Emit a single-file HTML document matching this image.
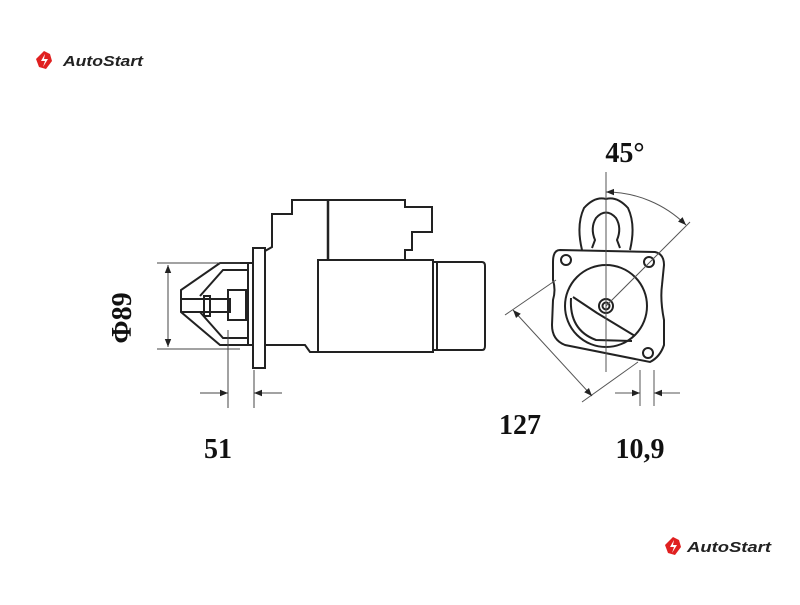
<!DOCTYPE html>
<html><head><style>
body{margin:0;background:#fff;width:800px;height:600px;overflow:hidden}
</style></head><body>
<svg width="800" height="600" viewBox="0 0 800 600" xmlns="http://www.w3.org/2000/svg">
<defs>
<marker id="a" viewBox="0 0 10 10" refX="10" refY="5" markerWidth="12" markerHeight="8" markerUnits="userSpaceOnUse" orient="auto-start-reverse"><path d="M0,1 L10,5 L0,9z" fill="#222"/></marker>
</defs>
<g transform="translate(36,51)">
<path d="M8,0 L14,3 L16,10 L10,18 L3,16 L0,8z" fill="#e02020"/><path d="M9,3 L5,10 L9,10 L7,16 L12,8 L8,8z" fill="#fff"/>
<text x="27" y="15" font-family="Liberation Sans,sans-serif" font-size="15" font-style="italic" font-weight="bold" fill="#222" textLength="80" lengthAdjust="spacingAndGlyphs">AutoStart</text></g>
<g transform="translate(665,537)">
<path d="M8,0 L14,3 L16,10 L10,18 L3,16 L0,8z" fill="#e02020"/><path d="M9,3 L5,10 L9,10 L7,16 L12,8 L8,8z" fill="#fff"/>
<text x="22" y="15" font-family="Liberation Sans,sans-serif" font-size="15" font-style="italic" font-weight="bold" fill="#222" textLength="84" lengthAdjust="spacingAndGlyphs">AutoStart</text></g>

<g fill="none" stroke="#222" stroke-width="2">
<rect x="253" y="248" width="12" height="120"/>
<path d="M265,251 L272,247 L272,214 L292,214 L292,200 L405,200 L405,207 L432,207 L432,232 L412,232 L412,250 L405,250 L405,260"/>
<path d="M328,200 L328,260" stroke-width="2.5"/>
<path d="M265,345 L305,345 L310,352 L318,352"/>
<rect x="318" y="260" width="115" height="92"/>
<path d="M433,262 L482,262 Q485,262 485,266 L485,346 Q485,350 482,350 L433,350"/>
<line x1="437" y1="262" x2="437" y2="350"/>
<path d="M253,263 L248,263 L220,263 L181,290 L181,312 L220,345 L248,345 L253,345"/>
<path d="M248,263 L248,345"/>
<path d="M248,270 L223,270 L200,296 M248,338 L223,338 L200,312"/>
<path d="M182,299 L230,299 L230,312 L182,312"/>
<rect x="204" y="296" width="6" height="20"/>
<rect x="228" y="290" width="18" height="30"/>
</g>
<g stroke="#444" stroke-width="1" fill="none">
<line x1="157" y1="263" x2="240" y2="263"/><line x1="157" y1="349" x2="240" y2="349"/>
<line x1="168" y1="265" x2="168" y2="347" marker-start="url(#a)" marker-end="url(#a)"/>
<line x1="228" y1="330" x2="228" y2="408"/><line x1="254" y1="370" x2="254" y2="408"/>
<line x1="200" y1="393" x2="228" y2="393" marker-end="url(#a)"/><line x1="282" y1="393" x2="254" y2="393" marker-end="url(#a)"/>
</g>
<g font-family="Liberation Serif,serif" font-weight="bold" font-size="28" fill="#111">
<text transform="translate(131,318) rotate(-90)" text-anchor="middle">Φ89</text>
<text x="218" y="458" text-anchor="middle">51</text>
<text x="520" y="434" text-anchor="middle">127</text>
<text x="640" y="458" text-anchor="middle">10,9</text>
<text x="625" y="162" text-anchor="middle">45°</text>
</g>
<g fill="none" stroke="#222" stroke-width="2">
<path d="M582,250 Q576,225 584,208 Q595,196 606,199 Q617,196 628,208 Q636,225 630,250"/>
<path d="M592,248 L595,240 Q590,228 596,218 Q606,207 616,218 Q622,228 617,240 L620,248"/>
<path d="M560,250 L655,252 Q664,254 664,265 L662,285 Q660,300 664,320 L664,345 Q660,357 650,362 L565,345 Q552,340 552,325 L553,300 Q556,290 553,280 L553,262 Q553,250 560,250z"/>
<circle cx="566" cy="260" r="5"/><circle cx="649" cy="262" r="5"/><circle cx="648" cy="353" r="5"/>
<circle cx="606" cy="306" r="41"/>
<circle cx="606" cy="306" r="7"/><circle cx="606" cy="306" r="3.5"/>
<path d="M571,298 Q569,330 596,340 L632,341"/>
<path d="M573,297 L597,313 M597,313 L635,336"/>
</g>
<g stroke="#555" stroke-width="1" fill="none">
<line x1="606" y1="172" x2="606" y2="372"/>
<line x1="606" y1="306" x2="690" y2="222"/>
<path d="M606,192 A114,114 0 0 1 686,225" marker-start="url(#a)" marker-end="url(#a)"/>
<line x1="505" y1="315" x2="556" y2="280"/>
<line x1="582" y1="402" x2="638" y2="362"/>
<line x1="513" y1="310" x2="592" y2="396" marker-start="url(#a)" marker-end="url(#a)"/>
<line x1="640" y1="370" x2="640" y2="406"/><line x1="654" y1="370" x2="654" y2="406"/>
<line x1="615" y1="393" x2="640" y2="393" marker-end="url(#a)"/><line x1="680" y1="393" x2="654" y2="393" marker-end="url(#a)"/>
</g>
</svg>
</body></html>
